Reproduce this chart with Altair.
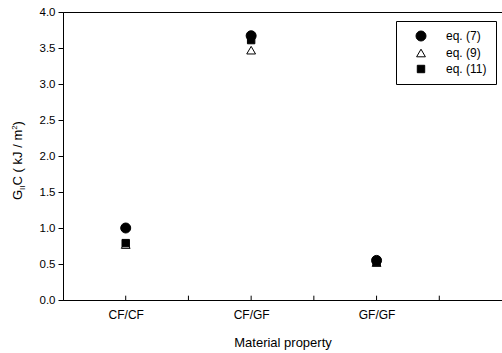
import altair as alt
import pandas as pd

# ---- data ----
categories = ["CF/CF", "CF/GF", "GF/GF"]
cat_pos = [1, 2, 3]
series = ["eq. (7)", "eq. (9)", "eq. (11)"]
eq7 = [1.00, 3.67, 0.55]
eq9 = [0.77, 3.47, 0.52]
eq11 = [0.79, 3.61, 0.53]
x_ticks = [1, 1.5, 2, 2.5, 3, 3.5]
y_ticks = [0, 0.5, 1.0, 1.5, 2.0, 2.5, 3.0, 3.5, 4.0]
title_parts = ["G", "II", "C ( kJ / m", "2", " )"]

rows = []
for s, vals in zip(series, [eq7, eq9, eq11]):
    for c, p, v in zip(categories, cat_pos, vals):
        rows.append({"series": s, "cat": c, "pos": p, "value": v})
df = pd.DataFrame(rows)

label_expr = " : ".join(
    f"datum.value == {p} ? '{c}'" for p, c in zip(cat_pos, categories)
) + " : ''"

FONT = "Liberation Sans"

leg = alt.Legend(
    title=None, orient="none", legendX=333, legendY=9,
    strokeColor="black", fillColor="white", padding=9,
    labelFont=FONT, labelFontSize=12, labelColor="black",
    symbolStrokeColor="black", symbolStrokeWidth=1,
    symbolOffset=10, labelOffset=19, rowPadding=4,
)

xscale = alt.Scale(domain=[0.5, 4.0], nice=False, zero=False)
yscale = alt.Scale(domain=[0, 4], nice=False)
xaxis = alt.Axis(values=cat_pos, labelExpr=label_expr, ticks=False,
                 grid=False, title="Material property",
                 labelFontSize=12, labelPadding=9,
                 titleFontSize=13, titlePadding=16,
                 titleFontWeight="normal")
yaxis = alt.Axis(values=y_ticks, format=".1f", grid=False, title=None,
                 tickSize=5, labelFontSize=11.5, labelPadding=3,
                 labelOverlap=False)

points = alt.Chart(df).mark_point(
    filled=True, strokeWidth=1, opacity=1
).encode(
    x=alt.X("pos:Q", scale=xscale, axis=xaxis),
    y=alt.Y("value:Q", scale=yscale, axis=yaxis),
    shape=alt.Shape("series:N", scale=alt.Scale(domain=series,
                    range=["circle", "triangle-up", "square"]), legend=leg),
    fill=alt.Fill("series:N", scale=alt.Scale(domain=series,
                  range=["black", "white", "black"]), legend=leg),
    stroke=alt.Stroke("series:N", scale=alt.Scale(domain=series,
                      range=["black", "black", "black"]), legend=leg),
    size=alt.Size("series:N", scale=alt.Scale(domain=series,
                  range=[100, 55, 70]), legend=leg),
)

tick_df = pd.DataFrame({"t": x_ticks})
ticks = alt.Chart(tick_df).mark_rule(color="black", strokeWidth=1).encode(
    x=alt.X("t:Q", scale=xscale, axis=xaxis),
    y=alt.YDatum(0, scale=yscale, axis=yaxis),
    y2=alt.datum(0.06),
)

# y-axis title composed of pieces (subscript / superscript)
base = alt.Chart(pd.DataFrame({"a": [0]}))
sizes = [13, 8, 13, 8, 13]
dxs = [0, 10.1, 14.6, 70.2, 74.6]
dys = [0, 3, 0, -5, 0]
title_layers = []
for txt, fs, dx, dy in zip(title_parts, sizes, dxs, dys):
    title_layers.append(
        base.mark_text(angle=270, align="left", baseline="alphabetic",
                       font=FONT, fontSize=fs, color="black", dx=dx, dy=dy)
        .encode(x=alt.value(-41), y=alt.value(188), text=alt.value(txt))
    )

chart = alt.layer(ticks, points, *title_layers).properties(
    width=439, height=288,
    autosize=alt.AutoSizeParams(type="none"),
    padding={"left": 63, "top": 12, "right": 0, "bottom": 53},
).configure_view(
    stroke="black", strokeWidth=1
).configure_axis(
    domainColor="black", tickColor="black", labelColor="black",
    titleColor="black", labelFont=FONT, titleFont=FONT, domainWidth=1,
)

chart.save("out.html", embed_options={"renderer": "svg", "actions": False})
